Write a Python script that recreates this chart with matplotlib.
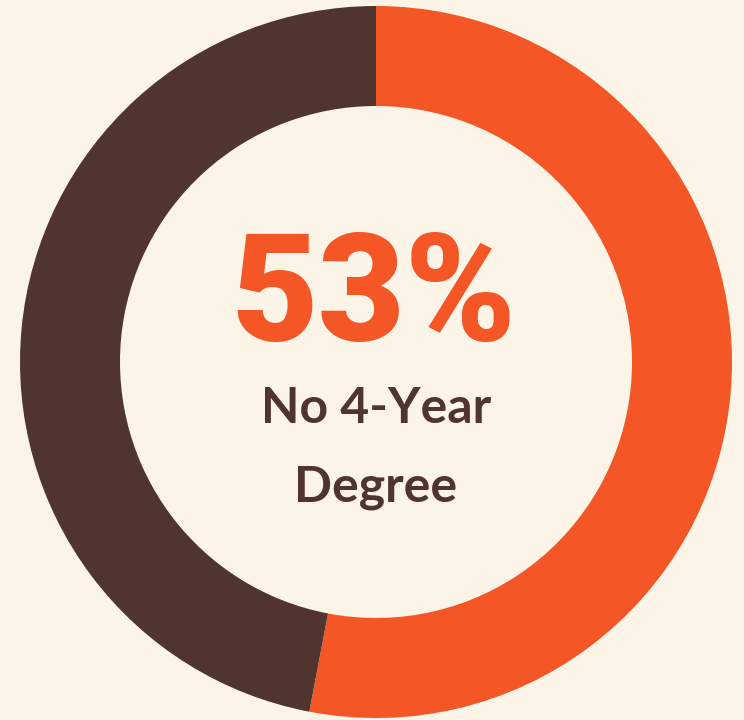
import matplotlib
matplotlib.use('Agg')
import matplotlib.pyplot as plt

# data
labels = ['No 4-Year Degree', '4-Year Degree']
values = [53, 47]
colors = ['#f45625', '#4f352e']
headline = '53%'
caption = 'No 4-Year\nDegree'

bg = '#fdf4e8'

fig = plt.figure(figsize=(7.44, 7.2), dpi=100, facecolor=bg)
ax = fig.add_axes([0, 0, 1, 1])
ax.set_facecolor(bg)

ax.pie(values, colors=colors, startangle=90, counterclock=False,
       center=(376, 358), radius=356,
       wedgeprops=dict(width=100, linewidth=0))

ax.set_xlim(0, 744)
ax.set_ylim(0, 720)
ax.set_aspect('equal')
ax.axis('off')

ax.text(374, 420, headline, ha='center', va='center', color=colors[0],
        fontsize=108, fontfamily='Roboto', fontweight='black')
ax.text(376, 272, caption, ha='center', va='center', color=colors[1],
        fontsize=36, fontfamily='Lato', fontweight='bold', linespacing=1.9)

fig.savefig('out.png', dpi=100, facecolor=bg)
